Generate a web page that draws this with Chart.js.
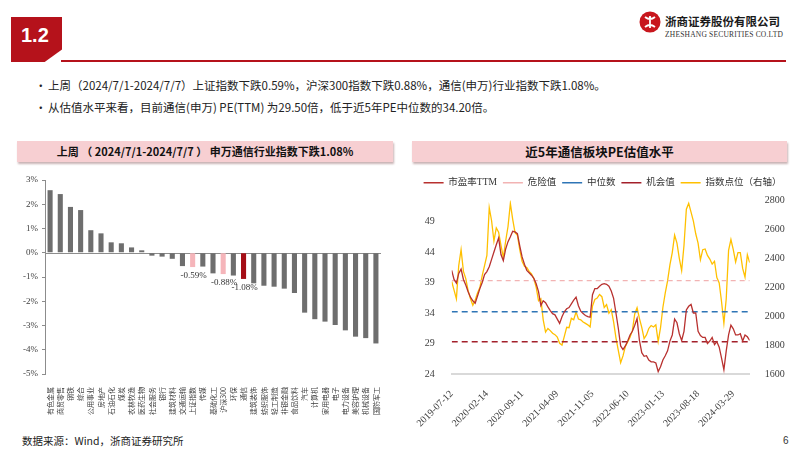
<!DOCTYPE html>
<html>
<head>
<meta charset="utf-8">
<script src="https://cdn.jsdelivr.net/npm/chart.js@4.4.1/dist/chart.umd.min.js"></script>
<style>
  body { margin: 0; width: 802px; height: 451px; overflow: hidden; background: #fff; position: relative;
         font-family: 'Noto Sans CJK SC', sans-serif; color: #222; }
  .abs { position: absolute; }
  .numbox { left: 11px; top: 17px; width: 51px; height: 45px; background: #b5121b;
            clip-path: polygon(0 0, 100% 0, 100% 72%, 66% 100%, 0 100%); }
  .numbox span { position: absolute; left: 10px; top: 7px; color: #fff; font: bold 20px 'Liberation Sans', Arial, sans-serif; }
  .rule { left: 61px; top: 60px; width: 725px; height: 2px; background: #b5121b; }
  .bullet { font-size: 11.5px; white-space: nowrap; }
  .titlebox { top: 141px; height: 21px; background: #f7cfd2; box-shadow: 1px 2px 2px #c9b3b4;
              font-weight: bold; font-size: 12.5px; line-height: 21px; text-align: center; color: #111; white-space: nowrap; }
  canvas { position: absolute; }
</style>
</head>
<body>
<div class="abs numbox"><span>1.2</span></div>
<div class="abs rule"></div>

<svg class="abs" style="left:639px;top:11px" width="22" height="22" viewBox="0 0 22 22">
  <circle cx="11" cy="11" r="10.5" fill="#c8161d"/>
  <path d="M6 6 Q11 10 16 6 M6 16 Q11 12 16 16 M11 5 L11 17" stroke="#fff" stroke-width="1.8" fill="none"/>
</svg>
<div class="abs" style="left:665px;top:13px;font-size:11.5px;font-weight:bold;color:#1a1a1a">浙商证券股份有限公司</div>
<div class="abs" style="left:665px;top:30px;font:7.5px 'Liberation Serif',serif;color:#333;letter-spacing:0.2px">ZHESHANG SECURITIES CO.LTD</div>

<div class="abs bullet" style="left:35px;top:77px">•</div>
<div class="abs bullet" style="left:48px;top:77px">上周（2024/7/1-2024/7/7）上证指数下跌0.59%，沪深300指数下跌0.88%，通信(申万)行业指数下跌1.08%。</div>
<div class="abs bullet" style="left:35px;top:99px">•</div>
<div class="abs bullet" style="left:48px;top:99px">从估值水平来看，目前通信(申万) PE(TTM) 为29.50倍，低于近5年PE中位数的34.20倍。</div>

<div class="abs titlebox" style="left:17px;width:376px;font-size:11px">上周 （ 2024/7/1-2024/7/7 ） 申万通信行业指数下跌1.08%</div>
<div class="abs titlebox" style="left:412px;width:375px">近5年通信板块PE估值水平</div>

<canvas id="barChart" width="380" height="255" style="left:15px;top:170px"></canvas>
<canvas id="peChart" width="395" height="260" style="left:405px;top:170px"></canvas>

<div class="abs" style="left:22px;top:433px;font-size:10.5px;color:#222">数据来源：Wind，浙商证券研究所</div>
<div class="abs" style="left:783px;top:435px;font:10px 'Liberation Sans',sans-serif;color:#333">6</div>

<script>
// ---- 左图：申万行业周涨跌幅 ----
const industries = ['有色金属', '商贸零售', '钢铁', '综合', '公用事业', '房地产', '石油石化', '煤炭',
  '农林牧渔', '医药生物', '社会服务', '银行', '建筑材料', '交通运输', '上证指数', '传媒', '基础化工',
  '沪深300', '环保', '通信', '建筑装饰', '纺织服饰', '轻工制造', '非银金融', '食品饮料', '汽车',
  '计算机', '家用电器', '电子', '电力设备', '美容护理', '机械设备', '国防军工'];
const weeklyChange = [2.58, 2.42, 1.89, 1.76, 0.93, 0.80, 0.43, 0.39, 0.22, 0.10, -0.12, -0.16,
  -0.25, -0.55, -0.59, -0.57, -0.85, -0.88, -0.94, -1.08, -1.26, -1.36, -1.40, -1.48, -1.66, -2.47,
  -2.74, -2.84, -2.98, -3.20, -3.46, -3.52, -3.74];
const highlight = { '上证指数': '#f5b5ba', '沪深300': '#f5b5ba', '通信': '#a50e16' };

// ---- 右图：近5年PE估值 ----
const dateTicks = ['2019-07-12', '2020-02-14', '2020-09-11', '2021-04-09', '2021-11-05',
  '2022-06-10', '2023-01-13', '2023-08-18', '2024-03-29'];
const peTTM = [41.0, 39.5, 38.9, 40.5, 41.2, 39.5, 38.6, 37.5, 36.6, 36.0,
  35.6, 36.8, 38.0, 39.0, 40.3, 40.8, 41.6, 42.8, 44.0, 45.2,
  46.3, 43.6, 42.6, 44.5, 45.7, 46.5, 47.4, 47.3, 47.0, 45.0,
  43.2, 42.0, 41.0, 40.6, 40.2, 39.7, 38.8, 37.5, 35.2, 36.0,
  35.7, 35.0, 34.4, 33.9, 33.7, 33.0, 32.3, 33.4, 34.2, 34.7,
  34.9, 35.5, 36.1, 36.6, 35.2, 34.3, 33.9, 33.6, 33.4, 33.3,
  37.0, 38.0, 38.0, 38.4, 38.7, 38.8, 38.7, 38.4, 37.6, 36.4,
  34.0, 31.5, 28.6, 28.0, 28.6, 29.4, 30.4, 31.0, 32.0, 33.1,
  29.5, 27.5, 26.9, 27.0, 26.3, 26.0, 26.0, 25.8, 24.4, 25.2,
  26.3, 27.0, 27.8, 29.4, 30.4, 33.0, 32.4, 30.6, 29.5, 31.0,
  34.5, 35.1, 35.4, 34.0, 34.0, 31.0, 30.3, 30.0, 30.0, 29.0,
  29.4, 30.0, 28.8, 29.3, 28.4, 26.6, 24.7, 27.8, 30.4, 32.0,
  31.4, 30.4, 30.4, 30.6, 29.4, 30.4, 30.1, 29.5];
const indexLevel = [2240, 2180, 2120, 2350, 2460, 2310, 2260, 2176, 2120, 2075,
  2110, 2160, 2198, 2280, 2350, 2420, 2750, 2660, 2520, 2610,
  2580, 2490, 2405, 2520, 2620, 2780, 2670, 2577, 2560, 2460,
  2380, 2345, 2336, 2310, 2292, 2260, 2200, 2107, 2120, 1975,
  1890, 1915, 1900, 1882, 1872, 1855, 1812, 1800, 1860, 1923,
  1920, 1985, 1975, 2030, 1980, 1975, 1960, 1950, 1940, 1925,
  2070, 2115, 2125, 2150, 2135, 2060, 2080, 2020, 2045, 1960,
  1850, 1763, 1678, 1725, 1790, 1822, 1855, 1900, 2015, 2058,
  1985, 1923, 1845, 1870, 1915, 1935, 1925, 1940, 1825, 1920,
  2060, 2160, 2244, 2355, 2440, 2560, 2505, 2400, 2315, 2490,
  2740, 2780, 2720, 2657, 2570, 2505, 2390, 2460, 2465, 2420,
  2395, 2360, 2380, 2267, 2230, 2100, 1950, 2120, 2455, 2530,
  2460, 2375, 2440, 2440, 2330, 2270, 2425, 2370];
const dangerLevel = 39.3;
const medianLevel = 34.2;
const chanceLevel = 29.3;

const serif = "'Liberation Serif', 'Noto Sans CJK SC', serif";

// 柱子下方的数值标注（只标注高亮的三根），以及0%基准线
const barLabelPlugin = {
  id: 'barLabels',
  beforeDatasetsDraw(chart) {
    const ctx = chart.ctx;
    const y0 = chart.scales.y.getPixelForValue(0);
    ctx.save();
    ctx.strokeStyle = '#8c8c8c';
    ctx.lineWidth = 1;
    ctx.beginPath();
    ctx.moveTo(chart.chartArea.left, Math.round(y0) + 0.5);
    ctx.lineTo(chart.chartArea.right, Math.round(y0) + 0.5);
    ctx.stroke();
    ctx.restore();
  },
  afterDatasetsDraw(chart) {
    const ctx = chart.ctx;
    const meta = chart.getDatasetMeta(0);
    ctx.save();
    ctx.font = '9px ' + serif;
    ctx.fillStyle = '#333';
    ctx.textAlign = 'center';
    ctx.textBaseline = 'top';
    meta.data.forEach((bar, i) => {
      if (!highlight[industries[i]]) return;
      ctx.fillText(weeklyChange[i].toFixed(2) + '%', bar.x + 1, bar.y + 4);
    });
    ctx.restore();
  }
};

new Chart(document.getElementById('barChart'), {
  type: 'bar',
  data: {
    labels: industries,
    datasets: [{
      data: weeklyChange,
      backgroundColor: industries.map(n => highlight[n] || '#6e6e6e'),
      categoryPercentage: 1,
      barPercentage: 0.5
    }]
  },
  options: {
    responsive: false,
    animation: false,
    devicePixelRatio: 1,
    layout: { padding: { top: 10, right: 14, left: 0, bottom: 0 } },
    plugins: { legend: { display: false }, tooltip: { enabled: false } },
    scales: {
      x: {
        grid: { display: false },
        border: { display: false },
        ticks: {
          autoSkip: false, minRotation: 90, maxRotation: 90, padding: 5,
          color: '#404040', font: { size: 7, family: "'Noto Sans CJK SC', sans-serif" }
        },
        afterFit(scale) { scale.height = 51; }
      },
      y: {
        min: -5, max: 3,
        border: { display: true, color: '#8c8c8c', width: 1 },
        grid: { drawOnChartArea: false, tickColor: '#8c8c8c', tickLength: 3 },
        ticks: {
          stepSize: 1, padding: 4, color: '#404040',
          font: { size: 9, family: serif },
          callback: v => v + '%'
        },
        afterFit(scale) { scale.width = 30; }
      }
    }
  },
  plugins: [barLabelPlugin]
});

// 图例与绘图区之间留一点空隙
const legendGap = {
  id: 'legendGap',
  beforeInit(chart) {
    const fit = chart.legend.fit;
    chart.legend.fit = function () {
      fit.bind(chart.legend)();
      this.height += 3;
    };
  }
};

const lastIdx = peTTM.length - 1;
const flatLine = v => [{ x: 0, y: v }, { x: lastIdx, y: v }];

new Chart(document.getElementById('peChart'), {
  type: 'line',
  data: {
    datasets: [
      { label: '市盈率TTM', data: peTTM.map((v, i) => ({ x: i, y: v })), yAxisID: 'y',
        borderColor: '#b8312f', borderWidth: 1.3 },
      { label: '危险值', data: flatLine(dangerLevel), yAxisID: 'y',
        borderColor: '#f2b3b3', borderWidth: 1.3, borderDash: [5, 4] },
      { label: '中位数', data: flatLine(medianLevel), yAxisID: 'y',
        borderColor: '#2e75b6', borderWidth: 1.5, borderDash: [6, 4] },
      { label: '机会值', data: flatLine(chanceLevel), yAxisID: 'y',
        borderColor: '#a3202b', borderWidth: 1.5, borderDash: [6, 4] },
      { label: '指数点位（右轴）', data: indexLevel.map((v, i) => ({ x: i, y: v })), yAxisID: 'y1',
        borderColor: '#ffc000', borderWidth: 1.3 }
    ]
  },
  options: {
    responsive: false,
    animation: false,
    devicePixelRatio: 1,
    layout: { padding: { top: 2, left: 0, right: 0, bottom: 0 } },
    elements: { point: { radius: 0 }, line: { tension: 0, fill: false } },
    plugins: {
      tooltip: { enabled: false },
      legend: {
        position: 'top',
        labels: {
          usePointStyle: true, pointStyle: 'line', pointStyleWidth: 20,
          padding: 6, color: '#333', font: { size: 9.5, family: serif }
        }
      }
    },
    scales: {
      x: {
        type: 'linear', min: 0, max: lastIdx,
        grid: { display: false },
        border: { display: true, color: '#d9d9d9', width: 2 },
        afterBuildTicks(scale) { scale.ticks = dateTicks.map((d, k) => ({ value: k * 15 })); },
        ticks: {
          autoSkip: false, minRotation: 45, maxRotation: 45, padding: 6,
          color: '#404040', font: { size: 10, family: serif },
          callback: v => dateTicks[v / 15]
        },
        afterFit(scale) { scale.height = 56; }
      },
      y: {
        position: 'left', min: 24, max: 52.45,
        grid: { display: false },
        border: { display: false },
        afterBuildTicks(scale) { scale.ticks = [24, 29, 34, 39, 44, 49].map(v => ({ value: v })); },
        ticks: { padding: 9, color: '#404040', font: { size: 10, family: serif } },
        afterFit(scale) { scale.width = 46.7; }
      },
      y1: {
        position: 'right', min: 1600, max: 2800,
        grid: { display: false },
        border: { display: false },
        ticks: { stepSize: 200, padding: 7, color: '#404040', font: { size: 10, family: serif },
                 callback: v => String(v) },
        afterFit(scale) { scale.width = 50.3; }
      }
    }
  },
  plugins: [legendGap]
});
</script>
</body>
</html>
